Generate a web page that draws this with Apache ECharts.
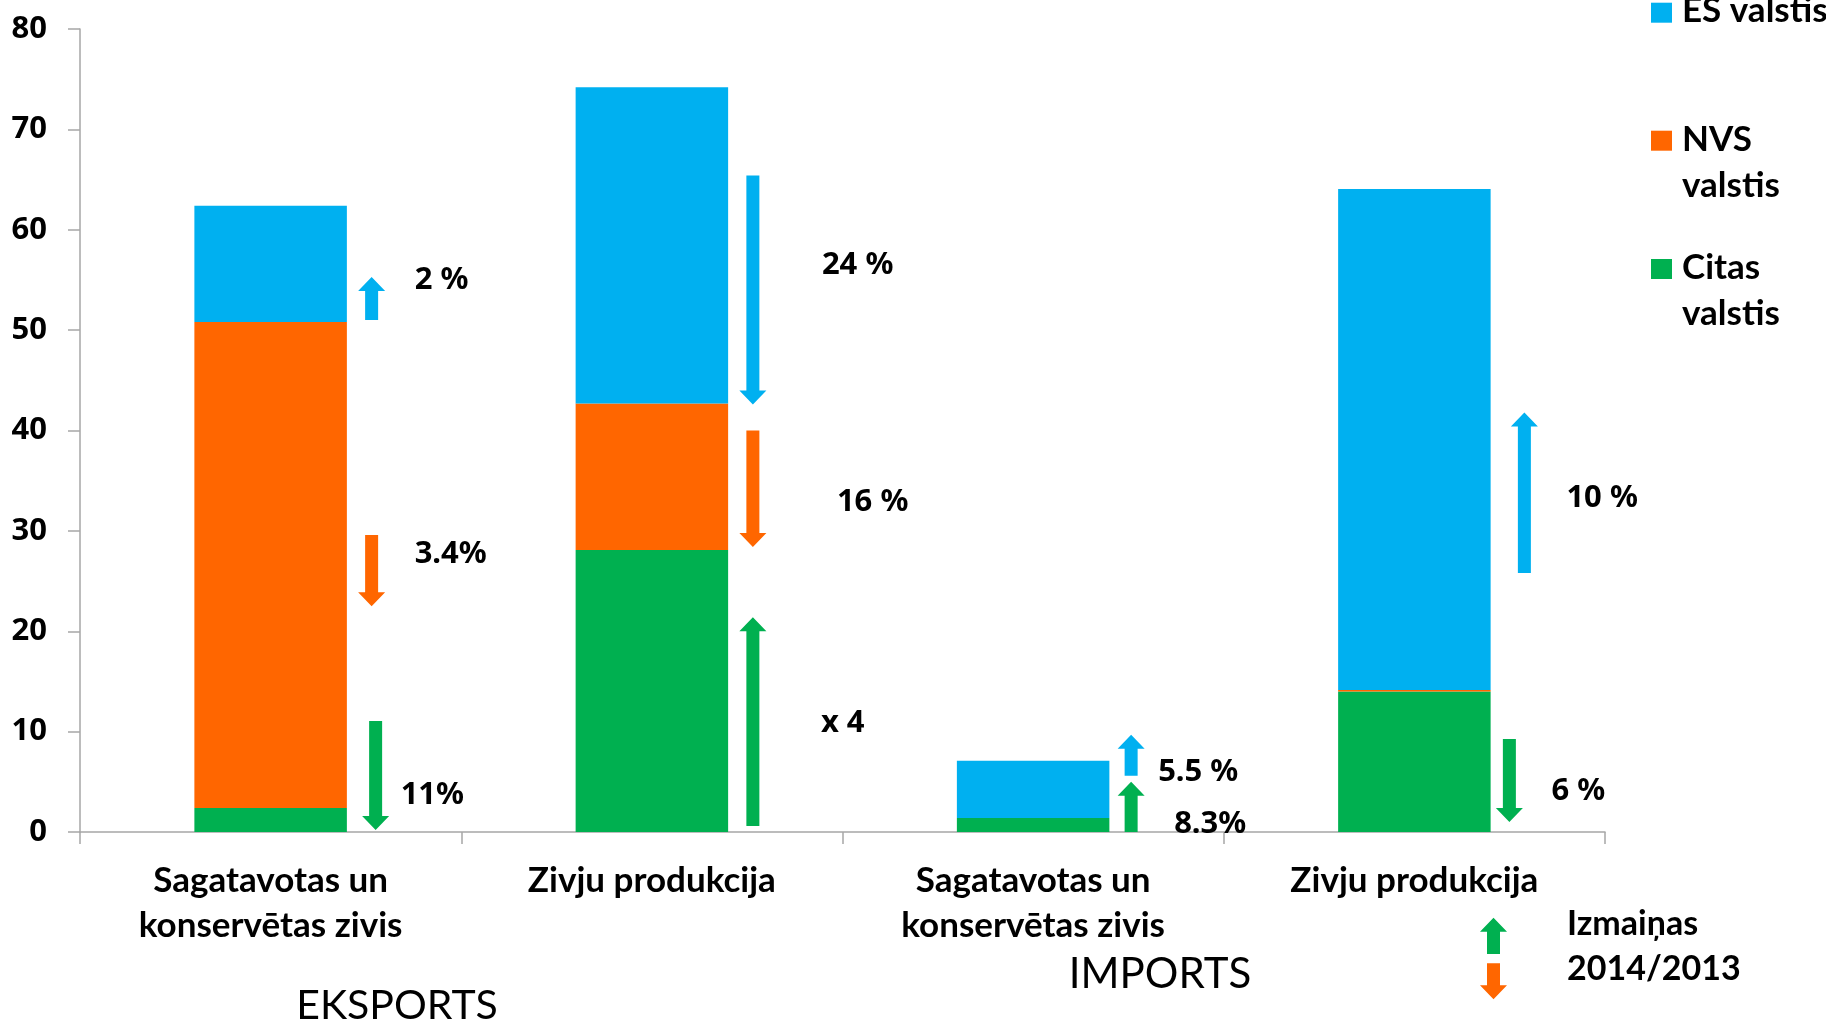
<!DOCTYPE html>
<html>
<head>
<meta charset="utf-8">
<script src="https://cdn.jsdelivr.net/npm/echarts/dist/echarts.min.js"></script>
<style>
html,body{margin:0;padding:0;background:#ffffff;}
#chart{width:1826px;height:1022px;}
</style>
</head>
<body>
<div id="chart"></div>
<script>
// ---------- data ----------
const categories = ['Sagatavotas un\nkonservētas zivis', 'Zivju produkcija', 'Sagatavotas un\nkonservētas zivis', 'Zivju produkcija'];
const seriesNames = ['Citas valstis', 'NVS valstis', 'ES valstis'];
const citasValues = [2.4, 28.1, 1.4, 14.0];
const nvsValues = [48.4, 14.6, 0, 0.15];
const esValues = [11.6, 31.5, 5.7, 49.9];
const yMin = 0, yMax = 80, yInterval = 10;

// change 2014/2013 arrows: category index, series index, tail value, tip value, label
const changeCategory = [0, 0, 0, 1, 1, 1, 2, 2, 3, 3];
const changeSeries = [2, 1, 0, 2, 1, 0, 2, 0, 2, 0];
const changeTail = [51.0, 29.6, 11.05, 65.4, 40.0, 0.6, 5.6, 0.0, 25.8, 9.26];
const changeTip = [55.3, 22.5, 0.2, 42.6, 28.4, 21.4, 9.7, 5.0, 41.8, 1.0];
const changeLabels = ['2 %', '3.4%', '11%', '24 %', '16 %', 'x 4', '5.5 %', '8.3%', '10 %', '6 %'];
const changeLabelAt = [55.2, 27.9, 3.9, 56.7, 33.1, 11.06, 6.2, 1.0, 33.5, 4.3];

const groupLabels = ['EKSPORTS', 'IMPORTS'];
const legendLabels = ['ES valstis', 'NVS\nvalstis', 'Citas\nvalstis'];
const legendSeries = [2, 1, 0];
const changeLegendText = 'Izmaiņas\n2014/2013';

// ---------- styles / layout ----------
const colors = ['#00B050', '#FF6600', '#00B0F0'];
const axisGray = '#a6a6a6';
const arrowDx = [101, 101, 105, 101, 101, 101, 98, 98, 110, 95];
const labelDx = [144, 144, 130, 170, 185, 169, 125, 141, 152, 137];
const labelNudge = 2.5;
const SHAFT = 13, HEAD_W = 27, HEAD_L = 14;

function arrowPoints(x, yTail, yTip) {
  const d = yTail > yTip ? 1 : -1; // +1 means pointing up on screen
  const hb = yTip + d * HEAD_L;
  return [
    [x - SHAFT / 2, yTail], [x - SHAFT / 2, hb], [x - HEAD_W / 2, hb],
    [x, yTip], [x + HEAD_W / 2, hb], [x + SHAFT / 2, hb], [x + SHAFT / 2, yTail]
  ];
}

const chart = echarts.init(document.getElementById('chart'), null, {renderer: 'canvas'});

const barSeries = [citasValues, nvsValues, esValues].map((vals, i) => ({
  name: seriesNames[i],
  type: 'bar',
  stack: 'total',
  barWidth: '40%',
  data: vals,
  itemStyle: {color: colors[i]},
  emphasis: {disabled: true},
  animation: false
}));

const legendTops = [-12.5, 116.5, 245];
const legendRectTops = [2.7, 130.7, 259];
const graphics = [];
legendLabels.forEach((t, k) => {
  graphics.push({type: 'rect', left: 1651, top: legendRectTops[k], shape: {width: 21, height: 20},
    style: {fill: colors[legendSeries[k]]}});
  graphics.push({type: 'text', x: 1682, y: legendTops[k],
    style: {text: t, fill: '#000', fontFamily: 'Lato', fontWeight: 'bold', fontSize: 35,
      lineHeight: 46, align: 'left', verticalAlign: 'top'}});
});
graphics.push({type: 'polygon', shape: {points: arrowPoints(1493.5, 954, 917.7)}, style: {fill: colors[0]}});
graphics.push({type: 'polygon', shape: {points: arrowPoints(1493.5, 963.3, 999.3)}, style: {fill: colors[1]}});
graphics.push({type: 'text', x: 1567, y: 901.5,
  style: {text: changeLegendText, fill: '#000', fontFamily: 'Lato', fontWeight: 'bold', fontSize: 34,
    lineHeight: 45, align: 'left', verticalAlign: 'top'}});
graphics.push({type: 'text', x: 397, y: 1006,
  style: {text: groupLabels[0], fill: '#000', fontFamily: 'Lato', fontSize: 41, align: 'center', verticalAlign: 'middle'}});
graphics.push({type: 'text', x: 1160, y: 974,
  style: {text: groupLabels[1], fill: '#000', fontFamily: 'Lato', fontSize: 42, align: 'center', verticalAlign: 'middle'}});

const option = {
  animation: false,
  backgroundColor: '#ffffff',
  grid: {left: 80, right: 221, top: 29, bottom: 190, containLabel: false, outerBoundsMode: 'none'},
  xAxis: {
    type: 'category',
    data: categories,
    axisLine: {show: true, lineStyle: {color: axisGray, width: 1.5}},
    axisTick: {show: true, length: 12, interval: 0, alignWithLabel: false, lineStyle: {color: axisGray, width: 1.5}},
    axisLabel: {interval: 0, margin: 26, color: '#000', fontFamily: 'Lato', fontWeight: 'bold',
      fontSize: 35, lineHeight: 45},
    splitLine: {show: false}
  },
  yAxis: {
    type: 'value',
    min: yMin, max: yMax, interval: yInterval,
    axisLine: {show: true, lineStyle: {color: axisGray, width: 1.5}},
    axisTick: {show: true, length: 12, lineStyle: {color: axisGray, width: 1.5}},
    axisLabel: {margin: 33, color: '#000', fontFamily: 'Noto Sans', fontWeight: 'bold', fontSize: 31},
    splitLine: {show: false}
  },
  series: barSeries.concat([{
    type: 'custom',
    name: 'Izmaiņas',
    clip: false,
    silent: true,
    z: 5,
    data: changeTail.map((t, i) => [changeCategory[i], t, changeTip[i], changeLabelAt[i], i]),
    encode: {x: 0, y: [1, 2]},
    renderItem: function (params, api) {
      const i = api.value(4);
      const c = api.value(0);
      const pTail = api.coord([c, api.value(1)]);
      const pTip = api.coord([c, api.value(2)]);
      const pLab = api.coord([c, api.value(3)]);
      const x = pTail[0] + arrowDx[i];
      return {
        type: 'group',
        children: [
          {type: 'polygon', shape: {points: arrowPoints(x, pTail[1], pTip[1])},
            style: {fill: colors[changeSeries[i]]}},
          {type: 'text', x: pTail[0] + labelDx[i], y: pLab[1] + labelNudge,
            style: {text: changeLabels[i], fill: '#000', fontFamily: 'Noto Sans', fontWeight: 'bold',
              fontSize: 31, align: 'left', verticalAlign: 'middle'}}
        ]
      };
    }
  }]),
  graphic: graphics
};
chart.setOption(option);
</script>
</body>
</html>
